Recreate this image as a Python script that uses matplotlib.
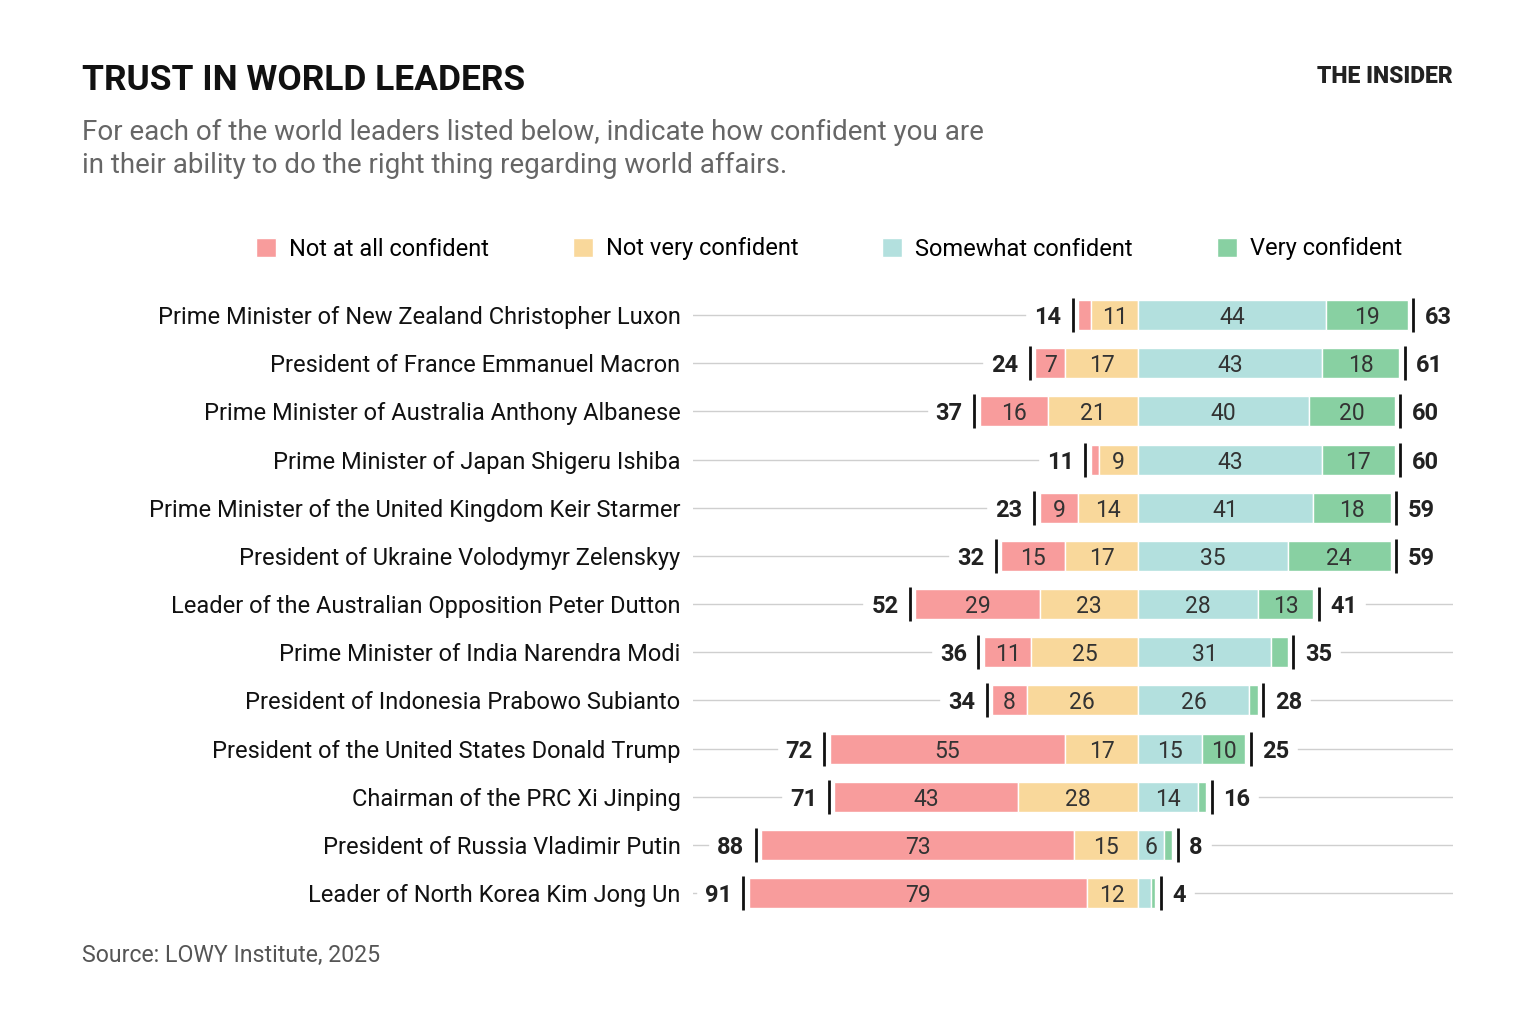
import numpy as np
import matplotlib
matplotlib.use('Agg')
import matplotlib.pyplot as plt
from matplotlib import font_manager

# data (LOWY Institute poll, 2025), percent
leaders = [
    'Prime Minister of New Zealand Christopher Luxon',
    'President of France Emmanuel Macron',
    'Prime Minister of Australia Anthony Albanese',
    'Prime Minister of Japan Shigeru Ishiba',
    'Prime Minister of the United Kingdom Keir Starmer',
    'President of Ukraine Volodymyr Zelenskyy',
    'Leader of the Australian Opposition Peter Dutton',
    'Prime Minister of India Narendra Modi',
    'President of Indonesia Prabowo Subianto',
    'President of the United States Donald Trump',
    'Chairman of the PRC Xi Jinping',
    'President of Russia Vladimir Putin',
    'Leader of North Korea Kim Jong Un',
]
not_at_all = np.array([3, 7, 16, 2, 9, 15, 29, 11, 8, 55, 43, 73, 79])
not_very = np.array([11, 17, 21, 9, 14, 17, 23, 25, 26, 17, 28, 15, 12])
somewhat = np.array([44, 43, 40, 43, 41, 35, 28, 31, 26, 15, 14, 6, 3])
very = np.array([19, 18, 20, 17, 18, 24, 13, 4, 2, 10, 2, 2, 1])
categories = ['Not at all confident', 'Not very confident',
              'Somewhat confident', 'Very confident']

neg_total = not_at_all + not_very
pos_total = somewhat + very

colors = ['#f89c9c', '#f9d89b', '#b3e0de', '#88d0a2']

names = {f.name for f in font_manager.fontManager.ttflist}
base = 'Liberation Sans Narrow' if 'Liberation Sans Narrow' in names else 'Roboto'
plt.rcParams['font.family'] = [base, 'DejaVu Sans']

W, H = 1536, 1024
fig = plt.figure(figsize=(W / 100, H / 100), dpi=100)
fig.patch.set_facecolor('white')


def fx(x):
    return x / W


def fy(y):
    return 1 - y / H


# layout in pixels
PX_PER_UNIT = 4.28
CENTER = 1138
ax_l, ax_r = 693, 1453
row_top, row_step = 315, 48.17
n = len(leaders)
ax_top = row_top - row_step / 2
ax_bot = row_top + row_step * (n - 1) + row_step / 2

ax = fig.add_axes([fx(ax_l), fy(ax_bot), (ax_r - ax_l) / W, (ax_bot - ax_top) / H])
ax.set_xlim((ax_l - CENTER) / PX_PER_UNIT, (ax_r - CENTER) / PX_PER_UNIT)
ax.set_ylim(n - 0.5, -0.5)
for s in ax.spines.values():
    s.set_visible(False)
ax.set_xticks([])

y = np.arange(n)
bh = 30 / row_step
lefts = [-neg_total, -not_very, np.zeros(n), somewhat]
values = [not_at_all, not_very, somewhat, very]
bars = []
for vals, left, col, lab in zip(values, lefts, colors, categories):
    b = ax.barh(y, vals, left=left, height=bh, color=col, edgecolor='white',
                linewidth=1, label=lab, zorder=2)
    bars.append(b)
    for i in range(n):
        if vals[i] >= 5:
            ax.text(left[i] + vals[i] / 2, i, str(vals[i]), ha='center',
                    va='center_baseline', fontsize=16.5, color='#333333', zorder=3)

ax.set_yticks(y)
ax.set_yticklabels(leaders, fontsize=17, color='#111111')
ax.tick_params(axis='y', length=0, pad=9)

# total markers and labels
tick_off = 5.5 / PX_PER_UNIT
lab_off = 17 / PX_PER_UNIT
th = 17 / row_step
left_labels, right_labels = [], []
for i in range(n):
    ax.plot([-neg_total[i] - tick_off] * 2, [i - th, i + th], color='#111111', lw=2,
            solid_capstyle='butt', zorder=3)
    ax.plot([pos_total[i] + tick_off] * 2, [i - th, i + th], color='#111111', lw=2,
            solid_capstyle='butt', zorder=3)
    left_labels.append(ax.text(-neg_total[i] - lab_off, i, str(neg_total[i]), ha='right',
                               va='center_baseline', fontsize=17, fontweight='bold',
                               color='#222222'))
    right_labels.append(ax.text(pos_total[i] + lab_off, i, str(pos_total[i]), ha='left',
                                va='center_baseline', fontsize=17, fontweight='bold',
                                color='#222222'))

# grey guide lines stop short of the total labels
fig.canvas.draw()
inv = ax.transData.inverted()
x0, x1 = ax.get_xlim()
gap = 9 / PX_PER_UNIT
for i in range(n):
    lb = left_labels[i].get_window_extent()
    rb = right_labels[i].get_window_extent()
    lx = inv.transform((lb.x0, 0))[0] - gap
    rx = inv.transform((rb.x1, 0))[0] + gap
    ax.plot([x0, lx], [i, i], color='#cfcfcf', lw=1, zorder=1)
    if rx < x1 - 20 / PX_PER_UNIT:
        ax.plot([rx, x1], [i, i], color='#cfcfcf', lw=1, zorder=1)

# legend
fig.legend(handles=bars, loc='center left', bbox_to_anchor=(fx(256), fy(249)),
           ncol=4, frameon=False, fontsize=17, handlelength=0.85, handleheight=0.85,
           handletextpad=0.55, columnspacing=3.55, borderpad=0, borderaxespad=0)

# titles
fig.text(fx(82), fy(90), 'TRUST IN WORLD LEADERS', fontsize=25.5, fontweight='bold',
         color='#111111', va='baseline')
fig.text(fx(82), fy(140), 'For each of the world leaders listed below, indicate how confident you are',
         fontsize=20, color='#666666', va='baseline')
fig.text(fx(82), fy(173), 'in their ability to do the right thing regarding world affairs.',
         fontsize=20, color='#666666', va='baseline')
fig.text(fx(1453), fy(83), 'THE INSIDER', fontsize=16.5, fontweight='black',
         color='#222222', ha='right', va='baseline')
fig.text(fx(82), fy(962), 'Source: LOWY Institute, 2025', fontsize=16.7, color='#555555',
         va='baseline')

fig.savefig('out.png', dpi=100, facecolor='white')
